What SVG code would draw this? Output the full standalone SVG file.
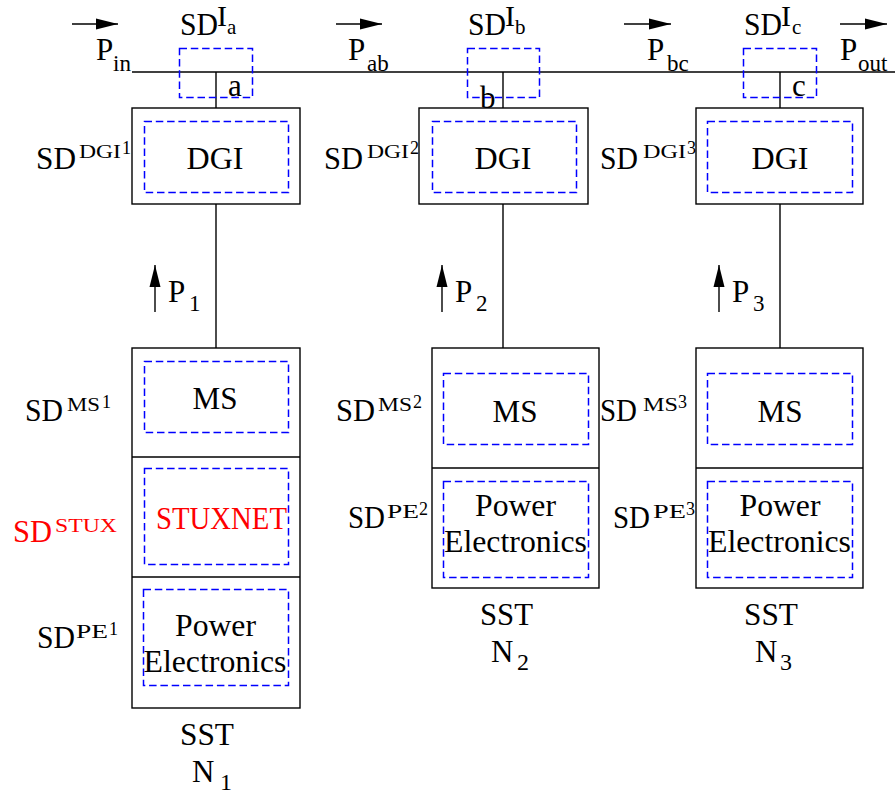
<svg xmlns="http://www.w3.org/2000/svg" width="895" height="797" viewBox="0 0 895 797">
<style>
text{fill:#000}
.m{font-size:31px}
.s{font-size:23px}
.sup{font-size:18px}
.dig{font-size:18px}
.red{fill:#ff0000}
.box{fill:none;stroke:#000;stroke-width:1.4}
.dash{fill:none;stroke:#0000ff;stroke-width:1.5;stroke-dasharray:7.5 3.8}
.ln{fill:none;stroke:#000;stroke-width:1.4}
</style>
<defs>
<marker id="ah" markerUnits="userSpaceOnUse" markerWidth="22" markerHeight="12" refX="22" refY="6" orient="auto">
<path d="M0,0.5 L22,6 L0,11.5 z" fill="#000"/>
</marker>
</defs>
<rect width="895" height="797" fill="#fff"/>
<g font-family="Liberation Serif, FreeSerif, Nimbus Roman, Noto Serif, DejaVu Serif, Times, serif">

<g id="connectors">
<line class="ln" x1="132" y1="72" x2="895" y2="72"/>
<line class="ln" x1="216" y1="72" x2="216" y2="108"/>
<line class="ln" x1="503" y1="72" x2="503" y2="108"/>
<line class="ln" x1="780" y1="72" x2="780" y2="108"/>
<line class="ln" x1="216" y1="204" x2="216" y2="348"/>
<line class="ln" x1="503" y1="204" x2="503" y2="348"/>
<line class="ln" x1="780" y1="204" x2="780" y2="348"/>
<line class="ln" x1="72" y1="24" x2="118" y2="24" marker-end="url(#ah)"/>
<line class="ln" x1="336" y1="24" x2="382" y2="24" marker-end="url(#ah)"/>
<line class="ln" x1="624" y1="24" x2="671" y2="24" marker-end="url(#ah)"/>
<line class="ln" x1="840" y1="24" x2="887" y2="24" marker-end="url(#ah)"/>
<line class="ln" x1="155" y1="312" x2="155" y2="265" marker-end="url(#ah)"/>
<line class="ln" x1="442" y1="312" x2="442" y2="265" marker-end="url(#ah)"/>
<line class="ln" x1="719" y1="312" x2="719" y2="265" marker-end="url(#ah)"/>
</g>

<g id="flow-labels">
<text class="m" x="96" y="60">P</text><text class="s" x="113" y="71">in</text>
<text class="m" x="348" y="60">P</text><text class="s" x="367" y="71">ab</text>
<text class="m" x="647" y="60">P</text><text class="s" x="667" y="71">bc</text>
<text class="m" x="840" y="60">P</text><text class="s" x="858" y="71">out</text>
<text class="m" x="168" y="302">P</text><text class="s" x="189" y="311">1</text>
<text class="m" x="455" y="302">P</text><text class="s" x="476" y="311">2</text>
<text class="m" x="732" y="302">P</text><text class="s" x="753" y="311">3</text>
</g>

<g id="junction-a">
<rect class="dash" x="179.5" y="48.5" width="73" height="49"/>
<text class="m" x="180" y="35" textLength="38" lengthAdjust="spacingAndGlyphs">SD</text><text x="217" y="26" font-size="30">I</text><text x="227" y="34" font-size="21">a</text>
<text class="m" x="228" y="96">a</text>
</g>
<g id="junction-b">
<rect class="dash" x="467.5" y="48.5" width="72" height="49"/>
<text class="m" x="468" y="35" textLength="38" lengthAdjust="spacingAndGlyphs">SD</text><text x="505" y="26" font-size="30">I</text><text x="515" y="34" font-size="21">b</text>
<text class="m" x="480" y="108">b</text>
</g>
<g id="junction-c">
<rect class="dash" x="743.5" y="48.5" width="73" height="49"/>
<text class="m" x="744" y="35" textLength="38" lengthAdjust="spacingAndGlyphs">SD</text><text x="781" y="26" font-size="30">I</text><text x="792" y="34" font-size="21">c</text>
<text class="m" x="792" y="96">c</text>
</g>

<g id="dgi1">
<rect class="box" x="132" y="108" width="168" height="96"/>
<rect class="dash" x="144.5" y="121.5" width="144" height="71"/>
<text class="m" x="186.5" y="169" textLength="57" lengthAdjust="spacingAndGlyphs">DGI</text>
<text class="m" x="36" y="169" textLength="40" lengthAdjust="spacingAndGlyphs">SD</text><text class="sup" x="79" y="158" textLength="42" lengthAdjust="spacingAndGlyphs">DGI</text><text class="dig" x="122" y="154">1</text>
</g>
<g id="dgi2">
<rect class="box" x="419" y="108" width="169" height="96"/>
<rect class="dash" x="432.5" y="121.5" width="144" height="71"/>
<text class="m" x="474.5" y="169" textLength="57" lengthAdjust="spacingAndGlyphs">DGI</text>
<text class="m" x="324" y="169" textLength="39" lengthAdjust="spacingAndGlyphs">SD</text><text class="sup" x="367" y="158" textLength="42" lengthAdjust="spacingAndGlyphs">DGI</text><text class="dig" x="410" y="154">2</text>
</g>
<g id="dgi3">
<rect class="box" x="696" y="108" width="167" height="96"/>
<rect class="dash" x="707.5" y="121.5" width="145" height="71"/>
<text class="m" x="751.5" y="169" textLength="57" lengthAdjust="spacingAndGlyphs">DGI</text>
<text class="m" x="600" y="169" textLength="38" lengthAdjust="spacingAndGlyphs">SD</text><text class="sup" x="643" y="158" textLength="43" lengthAdjust="spacingAndGlyphs">DGI</text><text class="dig" x="687" y="154">3</text>
</g>

<g id="sst1">
<rect class="box" x="132" y="348" width="168" height="360"/>
<line class="ln" x1="132" y1="457" x2="300" y2="457"/>
<line class="ln" x1="132" y1="577" x2="300" y2="577"/>
<rect class="dash" x="144.5" y="361.5" width="144" height="71"/>
<rect class="dash" x="144.5" y="468.5" width="144" height="96"/>
<rect class="dash" x="143.5" y="589.5" width="145" height="96"/>
<text class="m" x="192.5" y="409" textLength="45" lengthAdjust="spacingAndGlyphs">MS</text>
<text class="m red" x="156" y="529" textLength="131" lengthAdjust="spacingAndGlyphs">STUXNET</text>
<text class="m" x="175" y="636" textLength="81" lengthAdjust="spacingAndGlyphs">Power</text>
<text class="m" x="143.5" y="672" textLength="143" lengthAdjust="spacingAndGlyphs">Electronics</text>
<text class="m" x="25" y="421" textLength="38" lengthAdjust="spacingAndGlyphs">SD</text><text class="sup" x="67" y="411" textLength="33" lengthAdjust="spacingAndGlyphs">MS</text><text class="dig" x="102" y="408">1</text>
<text class="m red" x="13" y="542" textLength="39" lengthAdjust="spacingAndGlyphs">SD</text><text class="sup red" x="55" y="532" textLength="62" lengthAdjust="spacingAndGlyphs">STUX</text>
<text class="m" x="37" y="648" textLength="38" lengthAdjust="spacingAndGlyphs">SD</text><text class="sup" x="76" y="638" textLength="32" lengthAdjust="spacingAndGlyphs">PE</text><text class="dig" x="109" y="635">1</text>
<text class="m" x="180" y="745" textLength="54" lengthAdjust="spacingAndGlyphs">SST</text>
<text class="m" x="192" y="782">N</text><text x="220" y="790" font-size="24">1</text>
</g>
<g id="sst2">
<rect class="box" x="432" y="348" width="167" height="240"/>
<line class="ln" x1="432" y1="468" x2="599" y2="468"/>
<rect class="dash" x="443.5" y="373.5" width="145" height="71"/>
<rect class="dash" x="443.5" y="481.5" width="145" height="96"/>
<text class="m" x="492.5" y="422" textLength="45" lengthAdjust="spacingAndGlyphs">MS</text>
<text class="m" x="475" y="516" textLength="81" lengthAdjust="spacingAndGlyphs">Power</text>
<text class="m" x="444" y="552" textLength="143" lengthAdjust="spacingAndGlyphs">Electronics</text>
<text class="m" x="336" y="421" textLength="39" lengthAdjust="spacingAndGlyphs">SD</text><text class="sup" x="378" y="411" textLength="34" lengthAdjust="spacingAndGlyphs">MS</text><text class="dig" x="413" y="408">2</text>
<text class="m" x="348" y="528" textLength="37" lengthAdjust="spacingAndGlyphs">SD</text><text class="sup" x="387" y="518" textLength="32" lengthAdjust="spacingAndGlyphs">PE</text><text class="dig" x="419" y="515">2</text>
<text class="m" x="480" y="625" textLength="53" lengthAdjust="spacingAndGlyphs">SST</text>
<text class="m" x="491" y="662">N</text><text x="517" y="670" font-size="24">2</text>
</g>
<g id="sst3">
<rect class="box" x="696" y="348" width="167" height="240"/>
<line class="ln" x1="696" y1="468" x2="863" y2="468"/>
<rect class="dash" x="707.5" y="373.5" width="145" height="71"/>
<rect class="dash" x="707.5" y="481.5" width="145" height="96"/>
<text class="m" x="757.5" y="422" textLength="45" lengthAdjust="spacingAndGlyphs">MS</text>
<text class="m" x="739.5" y="516" textLength="81" lengthAdjust="spacingAndGlyphs">Power</text>
<text class="m" x="708" y="552" textLength="143" lengthAdjust="spacingAndGlyphs">Electronics</text>
<text class="m" x="600" y="421" textLength="37" lengthAdjust="spacingAndGlyphs">SD</text><text class="sup" x="643" y="411" textLength="35" lengthAdjust="spacingAndGlyphs">MS</text><text class="dig" x="678" y="408">3</text>
<text class="m" x="613" y="528" textLength="37" lengthAdjust="spacingAndGlyphs">SD</text><text class="sup" x="653" y="518" textLength="33" lengthAdjust="spacingAndGlyphs">PE</text><text class="dig" x="686" y="515">3</text>
<text class="m" x="744" y="625" textLength="54" lengthAdjust="spacingAndGlyphs">SST</text>
<text class="m" x="755" y="662">N</text><text x="780" y="670" font-size="24">3</text>
</g>
</g>
</svg>
